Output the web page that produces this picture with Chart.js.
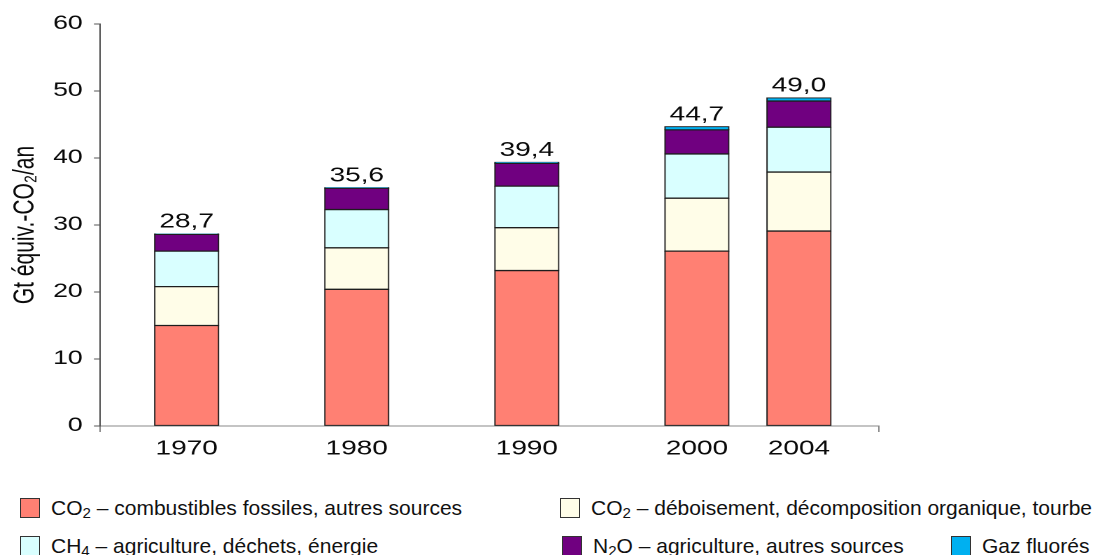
<!DOCTYPE html>
<html lang="fr">
<head>
<meta charset="utf-8">
<title>Émissions mondiales de gaz à effet de serre</title>
<script src="https://cdn.jsdelivr.net/npm/chart.js@4.4.1/dist/chart.umd.min.js"></script>
<style>
  html, body { margin: 0; padding: 0; background: #ffffff; }
  body {
    width: 1100px; height: 555px; position: relative; overflow: hidden;
    font-family: "Liberation Sans", Arial, Helvetica, sans-serif;
  }
  #chart { position: absolute; left: 0; top: 0; }
  .legend-item {
    position: absolute; display: flex; align-items: center; height: 20px;
    font-size: 21px; color: #111111; white-space: nowrap;
  }
  .swatch {
    width: 20px; height: 20px; box-sizing: border-box; border: 1px solid #333;
    margin-right: 11px; flex: none;
  }
  .legend-item sub { font-size: 0.72em; vertical-align: -0.22em; line-height: 0; }
</style>
</head>
<body>
<!-- drawn narrow and widened on screen, which gives the broad lettering of the figure -->
<canvas id="chart" width="786" height="470" style="width:1100px;height:470px"></canvas>
<div id="legend"></div>
<script>
// Global greenhouse gas emissions, Gt CO2-equivalent per year
const years       = ['1970', '1980', '1990', '2000', '2004'];
const co2Fossil   = [15.0, 20.4, 23.2, 26.1, 29.1];
const co2Land     = [5.8, 6.2, 6.4, 7.9, 8.8];
const ch4         = [5.3, 5.7, 6.2, 6.6, 6.7];
const n2o         = [2.5, 3.2, 3.4, 3.6, 3.9];
const fGases      = [0.1, 0.1, 0.2, 0.5, 0.5];
const yTickValues = [0, 10, 20, 30, 40, 50, 60];

const series = [
  { label: 'CO₂ – combustibles fossiles, autres sources', values: co2Fossil, color: '#FF8073' },
  { label: 'CO₂ – déboisement, décomposition organique, tourbe', values: co2Land, color: '#FFFDE8' },
  { label: 'CH₄ – agriculture, déchets, énergie', values: ch4, color: '#D9FFFF' },
  { label: 'N₂O – agriculture, autres sources', values: n2o, color: '#700080' },
  { label: 'Gaz fluorés', values: fGases, color: '#00B0F0' }
];

// Bar placement along the x axis (2004 sits closer to 2000 than the decades do to each other)
const slot = [0, 5, 10, 15, 18];
const X_MIN = -2.55, X_MAX = 20.35;

const FONT = '"Liberation Sans", Arial, Helvetica, sans-serif';
Chart.defaults.font.family = FONT;

// Total of each stack, written above the bar
const totalLabels = {
  id: 'totalLabels',
  afterDatasetsDraw(chart) {
    const { ctx } = chart;
    const top = chart.getDatasetMeta(chart.data.datasets.length - 1);
    ctx.save();
    ctx.font = '20px ' + FONT;
    ctx.fillStyle = '#0a0a0a';
    ctx.textAlign = 'center';
    ctx.textBaseline = 'alphabetic';
    top.data.forEach((bar, i) => {
      const total = series.reduce((sum, s) => sum + s.values[i], 0);
      ctx.fillText(total.toFixed(1).replace('.', ','), bar.x, bar.y - 6);
    });
    ctx.restore();
  }
};

new Chart(document.getElementById('chart'), {
  type: 'bar',
  data: {
    datasets: series.map(s => ({
      label: s.label,
      data: s.values.map((v, i) => ({ x: slot[i], y: v })),
      backgroundColor: s.color,
      borderColor: '#1e1e1e',
      borderWidth: 1,
      borderSkipped: false,
      barThickness: 46,
      stack: 'total'
    }))
  },
  options: {
    responsive: false,
    animation: false,
    devicePixelRatio: 2,
    layout: { padding: { left: 0, top: 24, right: 158, bottom: 0 } },
    plugins: { legend: { display: false }, tooltip: { enabled: false } },
    scales: {
      x: {
        type: 'linear',
        stacked: true,
        offset: false,
        min: X_MIN,
        max: X_MAX,
        afterBuildTicks: sc => {
          sc.ticks = [{ value: X_MIN }, ...slot.map(v => ({ value: v })), { value: X_MAX }];
        },
        afterFit: sc => { sc.height = 44; },
        ticks: {
          autoSkip: false,
          maxRotation: 0,
          padding: 5,
          color: '#0a0a0a',
          font: { size: 20 },
          callback: v => { const i = slot.indexOf(v); return i >= 0 ? years[i] : ''; }
        },
        grid: {
          offset: false,
          drawOnChartArea: false,
          drawTicks: true,
          tickLength: 6,
          color: c => (c.tick && slot.includes(c.tick.value)) ? 'rgba(0,0,0,0)' : '#888888'
        },
        border: { color: '#888888', width: 1 }
      },
      y: {
        stacked: true,
        min: 0,
        max: 60,
        afterBuildTicks: sc => { sc.ticks = yTickValues.map(v => ({ value: v })); },
        afterFit: sc => { sc.width = 71.4; },
        ticks: { padding: 8, color: '#0a0a0a', font: { size: 19 } },
        grid: { drawOnChartArea: false, drawTicks: true, tickLength: 4.3, color: '#555555' },
        border: { color: '#555555', width: 1 },
        title: {
          display: true,
          text: 'Gt équiv.-CO₂/an',
          color: '#0a0a0a',
          font: { size: 21 },
          padding: { top: 5.5, bottom: 0 }
        }
      }
    }
  },
  plugins: [totalLabels]
});

// Legend below the chart
const legendSpots = [[20, 498], [560, 498], [20, 536], [562, 536], [951, 536]];
const legend = document.getElementById('legend');
series.forEach((s, i) => {
  const item = document.createElement('div');
  item.className = 'legend-item';
  item.style.left = legendSpots[i][0] + 'px';
  item.style.top = legendSpots[i][1] + 'px';
  const sw = document.createElement('span');
  sw.className = 'swatch';
  sw.style.background = s.color;
  const txt = document.createElement('span');
  txt.innerHTML = s.label.replace(/[\u2080-\u2089]/g,
    c => '<sub>' + (c.charCodeAt(0) - 0x2080) + '</sub>');
  item.appendChild(sw);
  item.appendChild(txt);
  legend.appendChild(item);
});
</script>
</body>
</html>
